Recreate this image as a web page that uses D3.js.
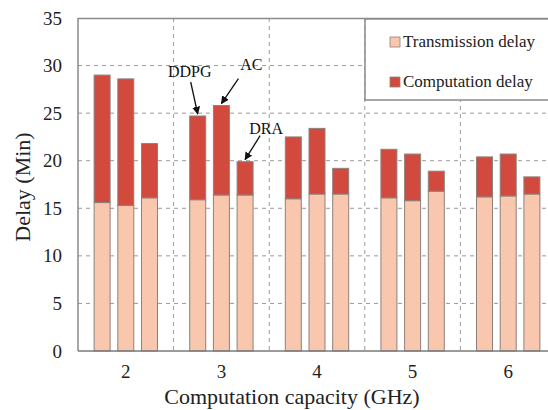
<!DOCTYPE html>
<html>
<head>
<meta charset="utf-8">
<script src="https://cdn.jsdelivr.net/npm/d3@7"></script>
<style>
  html, body { margin: 0; padding: 0; background: #fff; }
  svg { display: block; font-family: "Liberation Serif", "Times New Roman", serif; }
</style>
</head>
<body>
<svg id="chart" width="548" height="410"></svg>
<script>
// Computation capacity groups (GHz)
const categories = ["2", "3", "4", "5", "6"];
// Methods drawn side by side in each group
const methods = ["DDPG", "AC", "DRA"];
// Transmission delay (Min) per method, one value per category
const transmissionDDPG = [15.6, 15.9, 16.0, 16.1, 16.2];
const transmissionAC   = [15.3, 16.4, 16.5, 15.8, 16.3];
const transmissionDRA  = [16.1, 16.4, 16.5, 16.8, 16.5];
// Computation delay (Min) per method, stacked above the transmission delay
const computationDDPG = [13.4, 8.8, 6.5, 5.1, 4.2];
const computationAC   = [13.3, 9.4, 6.9, 4.9, 4.4];
const computationDRA  = [5.7, 3.5, 2.7, 2.1, 1.8];
const yTicks = [0, 5, 10, 15, 20, 25, 30, 35];
const legendLabels = ["Transmission delay", "Computation delay"];

const transmission = { DDPG: transmissionDDPG, AC: transmissionAC, DRA: transmissionDRA };
const computation  = { DDPG: computationDDPG, AC: computationAC, DRA: computationDRA };

const colTrans = "#f8c7ae";
const colComp = "#d2493d";
const barStroke = "#8f807c";
const gridCol = "#9a9a9a";
const FONT = "Liberation Serif";

const svg = d3.select("#chart");
const m = { left: 78, right: 556, top: 18, bottom: 351 };

const x = d3.scaleBand().domain(categories).range([m.left, m.right]).padding(0);
const xi = d3.scaleBand().domain(methods).range([0, x.bandwidth()])
  .paddingInner(0.325).paddingOuter(0.68);
const y = d3.scaleLinear().domain([0, 35]).range([m.bottom, m.top]);

// horizontal dashed grid
svg.append("g").selectAll("line").data(yTicks.filter(t => t > 0 && t < 35)).join("line")
  .attr("x1", m.left).attr("x2", m.right)
  .attr("y1", d => y(d)).attr("y2", d => y(d))
  .attr("stroke", gridCol).attr("stroke-width", 1).attr("stroke-dasharray", "4,4");

// vertical dashed separators between groups
svg.append("g").selectAll("line").data(categories.slice(1)).join("line")
  .attr("x1", d => x(d)).attr("x2", d => x(d))
  .attr("y1", m.top).attr("y2", m.bottom)
  .attr("stroke", gridCol).attr("stroke-width", 1).attr("stroke-dasharray", "4,4");

// plot frame (top, left)
svg.append("line").attr("x1", m.left).attr("x2", m.right).attr("y1", m.top + 0.5).attr("y2", m.top + 0.5)
  .attr("stroke", "#8a8a8a").attr("stroke-width", 1.5);
svg.append("line").attr("x1", m.left).attr("x2", m.left).attr("y1", m.top).attr("y2", m.bottom)
  .attr("stroke", "#8a8a8a").attr("stroke-width", 1.5);

// stacked bars
const rows = [];
categories.forEach((c, i) => methods.forEach(mm => {
  rows.push({ c, mm, t: transmission[mm][i], p: computation[mm][i] });
}));

const bars = svg.append("g");
bars.selectAll("rect.trans").data(rows).join("rect").attr("class", "trans")
  .attr("x", d => x(d.c) + xi(d.mm)).attr("width", xi.bandwidth())
  .attr("y", d => y(d.t)).attr("height", d => y(0) - y(d.t))
  .attr("fill", colTrans).attr("stroke", barStroke).attr("stroke-width", 1);
bars.selectAll("rect.comp").data(rows).join("rect").attr("class", "comp")
  .attr("x", d => x(d.c) + xi(d.mm)).attr("width", xi.bandwidth())
  .attr("y", d => y(d.t + d.p)).attr("height", d => y(d.t) - y(d.t + d.p))
  .attr("fill", colComp).attr("stroke", barStroke).attr("stroke-width", 1);

// baseline drawn over the bars
svg.append("line").attr("x1", m.left).attr("x2", m.right).attr("y1", m.bottom).attr("y2", m.bottom)
  .attr("stroke", "#7a7a7a").attr("stroke-width", 1.5);

// y axis
const yAxis = d3.axisLeft(y).tickValues(yTicks).tickSize(0).tickPadding(16);
const gy = svg.append("g").attr("transform", `translate(${m.left},0)`).call(yAxis);
gy.attr("font-family", FONT);
gy.select(".domain").remove();
gy.selectAll("text").attr("font-family", FONT).attr("font-size", 19).attr("fill", "#222");

// x axis
const xAxis = d3.axisBottom(x).tickSize(0).tickPadding(14);
const gx = svg.append("g").attr("transform", `translate(0,${m.bottom})`).call(xAxis);
gx.attr("font-family", FONT);
gx.select(".domain").remove();
gx.selectAll("text").attr("font-family", FONT).attr("font-size", 19).attr("fill", "#222");

// axis titles
svg.append("text").attr("x", 292).attr("y", 404)
  .attr("text-anchor", "middle").attr("font-size", 22).attr("fill", "#222")
  .text("Computation capacity (GHz)");
svg.append("text").attr("transform", "translate(30,187) rotate(-90)")
  .attr("text-anchor", "middle").attr("font-size", 22).attr("fill", "#222")
  .text("Delay (Min)");

// legend
const lg = svg.append("g");
lg.append("rect").attr("x", 365).attr("y", 19).attr("width", 200).attr("height", 81)
  .attr("fill", "#fff").attr("stroke", "#8a8a8a").attr("stroke-width", 1.5);
[colTrans, colComp].forEach((col, i) => {
  lg.append("rect").attr("x", 390).attr("y", 37 + i * 40).attr("width", 10).attr("height", 10)
    .attr("fill", col).attr("stroke", barStroke).attr("stroke-width", 0.8);
  lg.append("text").attr("x", 403).attr("y", 47 + i * 40).attr("font-size", 17).attr("fill", "#222")
    .text(legendLabels[i]);
});

// method annotations with arrows, anchored to the group "3" bars
const defs = svg.append("defs");
defs.append("marker").attr("id", "arrowhead").attr("viewBox", "0 0 10 10")
  .attr("refX", 9).attr("refY", 5).attr("markerWidth", 8).attr("markerHeight", 8)
  .attr("markerUnits", "userSpaceOnUse").attr("orient", "auto")
  .append("path").attr("d", "M0,0 L10,5 L0,10 z").attr("fill", "#111");

const annCat = "3";
const annIdx = categories.indexOf(annCat);
const annotations = [
  { mm: "DDPG", dx0: -7, dy0: -34, tx: -8, ty: -39 },
  { mm: "AC",   dx0: 17, dy0: -27, tx: 30, ty: -36 },
  { mm: "DRA",  dx0: 15, dy0: -26, tx: 21, ty: -28 }
];
annotations.forEach(a => {
  const cx = x(annCat) + xi(a.mm) + xi.bandwidth() / 2;
  const top = y(transmission[a.mm][annIdx] + computation[a.mm][annIdx]);
  svg.append("line").attr("x1", cx + a.dx0).attr("y1", top + a.dy0)
    .attr("x2", cx).attr("y2", top - 2)
    .attr("stroke", "#111").attr("stroke-width", 1.3).attr("marker-end", "url(#arrowhead)");
  svg.append("text").attr("x", cx + a.tx).attr("y", top + a.ty)
    .attr("text-anchor", "middle").attr("font-size", 16).attr("fill", "#111").text(a.mm);
});
</script>
</body>
</html>
